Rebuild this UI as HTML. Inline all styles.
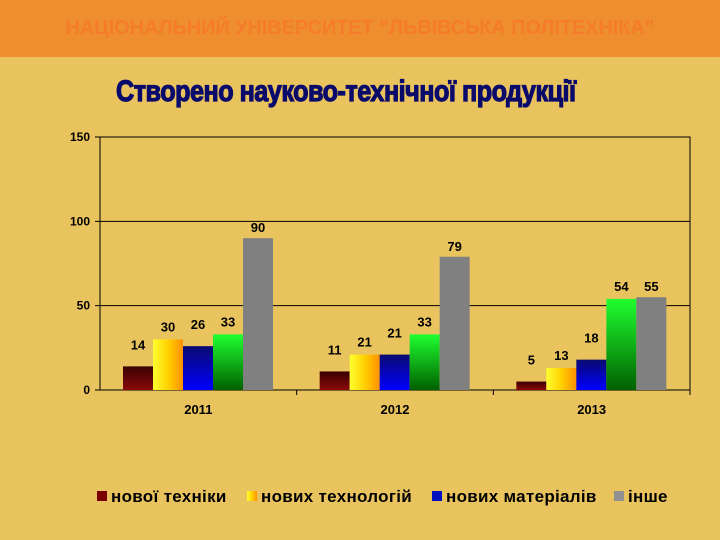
<!DOCTYPE html>
<html><head><meta charset="utf-8"><style>
body{margin:0;width:720px;height:540px;background:#E9C45E;overflow:hidden;font-family:"Liberation Sans",sans-serif;position:relative}
#hdr{position:absolute;left:0;top:0;width:720px;height:57px;background:#EF8E2E}
#hdr span{position:absolute;left:0;width:720px;top:17px;text-align:center;font-size:20px;color:#F47C2A;font-weight:bold;letter-spacing:-0.1px}
#title{position:absolute;left:116px;top:75px;font-size:30px;font-weight:bold;color:#0A0A6A;transform:scaleX(0.84);transform-origin:left;letter-spacing:-0.6px;-webkit-text-stroke:1.2px #0A0A6A;white-space:nowrap}
</style></head><body>
<div id="hdr"><span>НАЦІОНАЛЬНИЙ УНІВЕРСИТЕТ “ЛЬВІВСЬКА ПОЛІТЕХНІКА”</span></div>
<div id="title">Створено науково-технічної продукції</div>
<svg id="chart" width="720" height="540" style="position:absolute;left:0;top:0">
<defs>
<linearGradient id="g0" x1="0" y1="0" x2="0" y2="1"><stop offset="0" stop-color="#3a0000"/><stop offset="1" stop-color="#8a0a0a"/></linearGradient>
<linearGradient id="g1" x1="0" y1="0" x2="1" y2="0"><stop offset="0" stop-color="#ffff30"/><stop offset="0.5" stop-color="#ffd000"/><stop offset="1" stop-color="#ff9000"/></linearGradient>
<linearGradient id="g2" x1="0" y1="0" x2="0" y2="1"><stop offset="0" stop-color="#0a0a70"/><stop offset="1" stop-color="#0000ff"/></linearGradient>
<linearGradient id="g3" x1="0" y1="0" x2="0" y2="1"><stop offset="0" stop-color="#20ff30"/><stop offset="1" stop-color="#006000"/></linearGradient>
<linearGradient id="g4" x1="0" y1="0" x2="0" y2="1"><stop offset="0" stop-color="#808080"/><stop offset="1" stop-color="#808080"/></linearGradient>
</defs>
<g id="plot"></g>
</svg>
<script>
const categories=["2011","2012","2013"];
const s0=[14,11,5];
const s1=[30,21,13];
const s2=[26,21,18];
const s3=[33,33,54];
const s4=[90,79,55];
const yTicks=[0,50,100,150];
const legendLabels=["нової техніки","нових технологій","нових матеріалів","інше"];
const series=[s0,s1,s2,s3,s4];
const fills=["url(#g0)","url(#g1)","url(#g2)","url(#g3)","url(#g4)"];
const X0=100,X1=690,Y0=390,Y1=137,YMAX=150;
const y=v=>Y0-(v/YMAX)*(Y0-Y1);
const cw=(X1-X0)/categories.length;
const NS="http://www.w3.org/2000/svg";
const g=document.getElementById('plot');
function mk(t,a){const e=document.createElementNS(NS,t);for(const k in a)e.setAttribute(k,a[k]);g.appendChild(e);return e;}
const frame=mk('rect',{x:X0,y:Y1,width:X1-X0,height:Y0-Y1,fill:'none',stroke:'#000','stroke-width':1});


yTicks.forEach(t=>{
 const l=mk('line',{x1:X0-5,x2:X1,y1:y(t),y2:y(t),stroke:'#000','stroke-width':1});
 
 
 const tx=mk('text',{x:X0-10,y:y(t)+4,'text-anchor':'end','font-size':12,'font-weight':'bold'});
 tx.textContent=t;
 
 
});
categories.forEach((c,i)=>{
 const cx=X0+cw*i;
 const tk=mk('line',{x1:cx+cw,x2:cx+cw,y1:Y0,y2:Y0+5,stroke:'#000'});
 
 
 const tx=mk('text',{x:cx+cw/2,y:Y0+24,'text-anchor':'middle','font-size':13,'font-weight':'bold'});
 tx.textContent=c;
 
 
 series.forEach((s,j)=>{
  const bx=cx+23+j*30;
  const r=mk('rect',{x:bx,y:y(s[i]),width:30,height:Y0-y(s[i]),fill:fills[j]});
  
  
  const v=mk('text',{x:bx+15,y:y(s[i])-(j===0||j===2?17:(j===4?6:8)),'text-anchor':'middle','font-size':13,'font-weight':'bold'});
  v.textContent=s[i];
  
  
 });
});
const lfills=["#7a0000","url(#g1)","#0010c0","#909090"];
const lx=[97,247,432,614];
legendLabels.forEach((L,i)=>{
 const r=mk('rect',{x:lx[i],y:491,width:10,height:10,fill:lfills[i]});
 
 
 const t=mk('text',{x:lx[i]+14,y:502,'font-size':17,'font-weight':'bold','letter-spacing':'0.3'});
 t.textContent=L;
 
 
});
</script>
</body></html>
